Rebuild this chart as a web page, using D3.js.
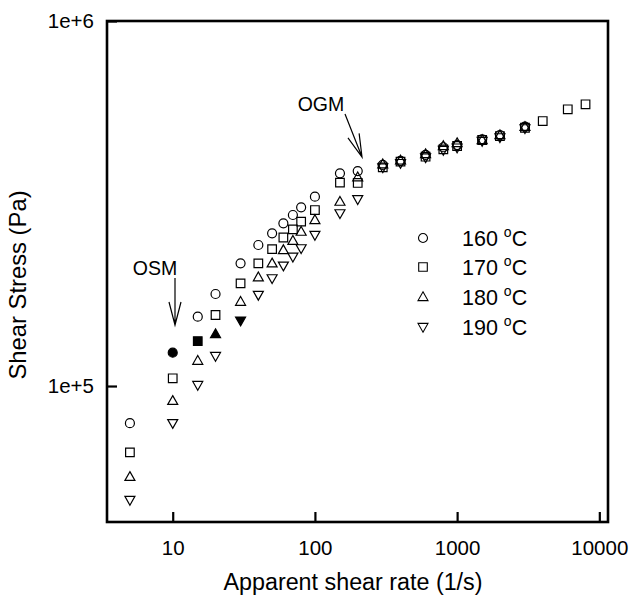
<!DOCTYPE html>
<html><head><meta charset="utf-8">
<script src="https://cdn.jsdelivr.net/npm/d3@7"></script>
<style>body{margin:0;background:#fff}text{font-family:"Liberation Sans",Arial,Helvetica,sans-serif;fill:#000}</style>
</head><body><svg id="c" width="629" height="596"></svg>
<script>
const shearRate = [5,10,15,20,30,40,50,60,70,80,100,150,200,300,400,600,800,1000,1500,2000,3000,4000,6000,8000];
const stress160 = [79100,123400,154900,178700,216800,243400,262000,279000,294100,308800,330200,382500,388000,403300,414000,429700,451000,457300,474000,487200,513500,null,null,null];
const stress170 = [65800,105000,132800,156500,191100,216800,237100,255200,268600,282000,303400,360800,360000,397400,411800,424900,445000,454500,472000,484000,510000,532000,573000,591300];
const stress180 = [56400,91100,117300,138800,170200,198600,216800,235800,250000,264800,285000,320000,373200,405000,415000,432000,454500,463000,472000,487000,513000,null,null,null];
const stress190 = [48720,79100,100600,120800,151000,177600,197200,213600,226000,238300,259300,297200,324800,397000,408000,423000,443000,450000,469000,480000,508000,null,null,null];
const seriesNames = ["160","170","180","190"];
const osmRate = [10,15,20,30]; // onset of slip (filled markers)
const xTicks = [10,100,1000,10000];
const yTicks = [1e5,1e6];

const svg = d3.select("#c");
const x = d3.scaleLog().domain([3.45,11510]).range([107,608]);
const y = d3.scaleLog().domain([42410,1e6]).range([522,21]);

const shapes = {
  circle: "M4.5,0A4.5,4.5,0,1,1,-4.5,0A4.5,4.5,0,1,1,4.5,0Z",
  square: "M-4.3,-4.3H4.3V4.3H-4.3Z",
  up: "M0,-5.2L5,3.6H-5Z",
  down: "M0,5.2L5,-3.6H-5Z"
};
const shapeKeys = ["circle","square","up","down"];
const allSeries = [stress160,stress170,stress180,stress190];

// axes
const xAxis = d3.axisBottom(x).tickValues(xTicks).tickSize(-10).tickPadding(18).tickFormat(d=>String(d));
const yAxis = d3.axisLeft(y).tickValues(yTicks).tickSize(-10).tickPadding(13).tickFormat(d=>"1e+"+Math.round(Math.log10(d)));
const gx = svg.append("g").attr("transform","translate(0,522)").call(xAxis);
const gy = svg.append("g").attr("transform","translate(107,0)").call(yAxis);
[gx,gy].forEach(g=>{
  g.select(".domain").remove();
  g.selectAll(".tick line").attr("stroke","#000").attr("stroke-width",2.2);
  g.selectAll(".tick text").attr("font-size",20.5).attr("font-family","Liberation Sans, Arial, sans-serif").attr("fill","#000");
});
svg.append("rect").attr("x",107).attr("y",21).attr("width",501).attr("height",501)
  .attr("fill","none").attr("stroke","#000").attr("stroke-width",2.6);

// titles
svg.append("text").attr("x",353).attr("y",590).attr("text-anchor","middle").attr("font-size",23.3).text("Apparent shear rate (1/s)");
svg.append("text").attr("transform","translate(26,285) rotate(-90)").attr("text-anchor","middle").attr("font-size",23.8).text("Shear Stress (Pa)");

// points
allSeries.forEach((vals,i)=>{
  const pts = shearRate.map((r,j)=>({r, v: vals[j]})).filter(d=>d.v!=null);
  svg.append("g").selectAll("path").data(pts).join("path")
    .attr("d",shapes[shapeKeys[i]])
    .attr("transform",d=>`translate(${x(d.r)},${y(d.v)})`)
    .attr("fill",d=>d.r===osmRate[i]?"#000":"none")
    .attr("stroke","#000").attr("stroke-width",1.2);
});

// legend
const legY = [238,267,297,327];
seriesNames.forEach((n,i)=>{
  svg.append("path").attr("d",shapes[shapeKeys[i]]).attr("transform",`translate(423,${legY[i]})`)
    .attr("fill","none").attr("stroke","#000").attr("stroke-width",1.1);
  const t = svg.append("text").attr("x",462).attr("y",legY[i]+8).attr("font-size",21.5);
  t.append("tspan").text(n+" ");
  t.append("tspan").attr("dy",-9).attr("font-size",14).text("o");
  t.append("tspan").attr("dy",9).text("C");
});

// annotations
function arrow(x1,y1,x2,y2){
  const ang = Math.atan2(y2-y1,x2-x1), L=23, W=6;
  const bx = x2-L*Math.cos(ang), by = y2-L*Math.sin(ang);
  const px = -Math.sin(ang)*W, py = Math.cos(ang)*W;
  svg.append("path").attr("d",`M${x1},${y1}L${x2},${y2}M${bx+px},${by+py}L${x2},${y2}L${bx-px},${by-py}`)
    .attr("stroke","#000").attr("stroke-width",1.2).attr("fill","none");
}
svg.append("text").attr("x",155).attr("y",275).attr("text-anchor","middle").attr("font-size",19.5).text("OSM");
arrow(175,278,175,325);
svg.append("text").attr("x",321).attr("y",111).attr("text-anchor","middle").attr("font-size",19.5).text("OGM");
arrow(345,114,362,157);
</script></body></html>
